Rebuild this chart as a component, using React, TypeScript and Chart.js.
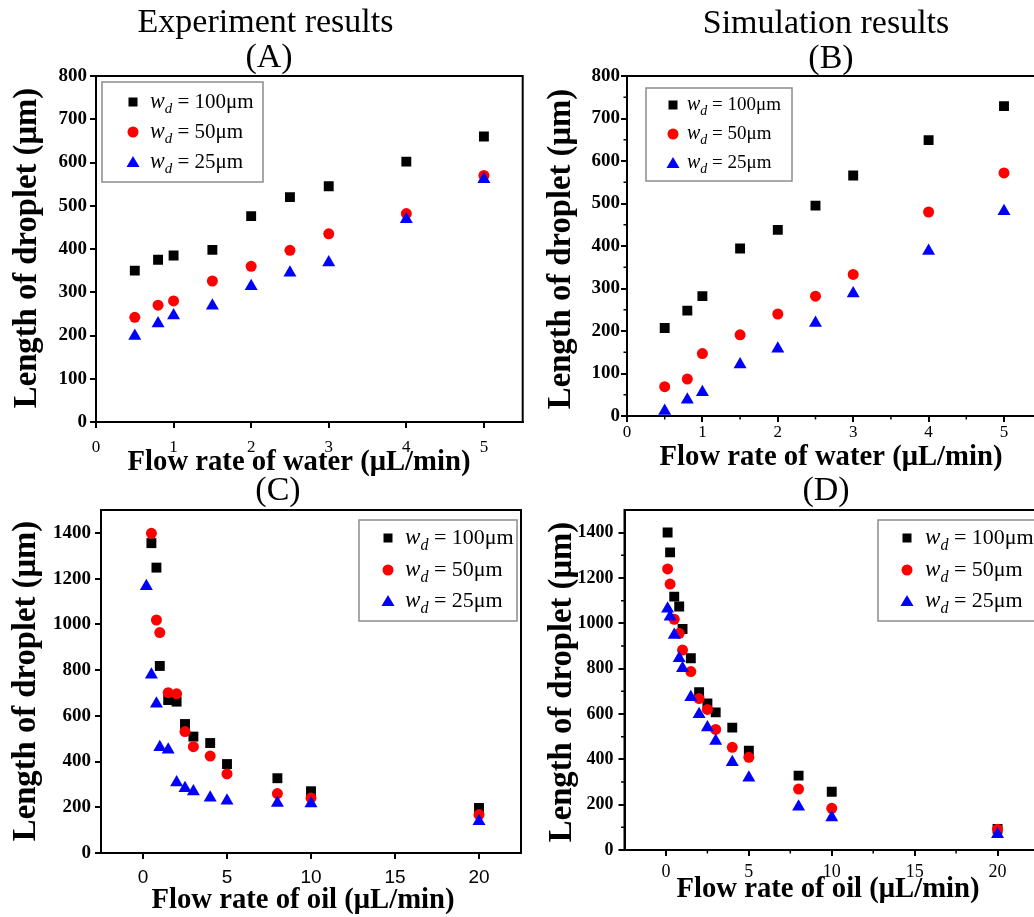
import React, { useEffect, useRef } from 'react';
import { Chart, registerables } from 'chart.js';

Chart.register(...registerables);

const SERIF = '"Liberation Serif", "Times New Roman", serif';
const SANS = '"Liberation Sans", Arial, sans-serif';

// ---------------- DATA ----------------
// Panel A: experiment, flow rate of water
const waterFlowA = [0.5, 0.8, 1, 1.5, 2, 2.5, 3, 4, 5];
const expWater100 = [350, 375, 385, 398, 476, 520, 545, 602, 660];
const expWater50 = [242, 270, 280, 326, 360, 397, 435, 482, 570];
const expWater25 = [199, 228, 246, 269, 314, 345, 369, 469, 561];

// Panel B: simulation, flow rate of water
const waterFlowB = [0.5, 0.8, 1, 1.5, 2, 2.5, 3, 4, 5];
const simWater100 = [207, 248, 282, 394, 438, 495, 566, 649, 729];
const simWater50 = [69, 87, 147, 191, 240, 282, 333, 480, 572];
const simWater25 = [12, 38, 56, 121, 158, 219, 288, 388, 482];

// Panel C: experiment, flow rate of oil
const oilFlowC = [0.5, 0.8, 1, 1.5, 2, 2.5, 3, 4, 5, 8, 10, 20];
const oilFlowC25 = [0.2, 0.5, 0.8, 1, 1.5, 2, 2.5, 3, 4, 5, 8, 10, 20];
const expOil100 = [1355, 1248, 818, 669, 662, 564, 509, 481, 389, 327, 270, 197];
const expOil50 = [1398, 1019, 964, 701, 696, 531, 465, 424, 346, 260, 241, 168];
const expOil25 = [1167, 780, 653, 463, 452, 308, 283, 269, 242, 229, 219, 216, 139];

// Panel D: simulation, flow rate of oil
const oilFlowD = [0.1, 0.25, 0.5, 0.8, 1, 1.5, 2, 2.5, 3, 4, 5, 8, 10, 20];
const simOil100 = [1401, 1313, 1118, 1074, 975, 846, 696, 647, 607, 540, 438, 328, 257, 93];
const simOil50 = [1240, 1173, 1018, 956, 882, 787, 668, 620, 532, 453, 409, 269, 184, 92];
const simOil25 = [1064, 1029, 949, 846, 802, 674, 599, 540, 481, 387, 319, 191, 143, 69];

// Ticks
const waterTicks = [0, 1, 2, 3, 4, 5];
const waterTickLabels = ['0', '1', '2', '3', '4', '5'];
const waterLenTicks = [0, 100, 200, 300, 400, 500, 600, 700, 800];
const waterLenTickLabels = ['0', '100', '200', '300', '400', '500', '600', '700', '800'];
const oilTicks = [0, 5, 10, 15, 20];
const oilTickLabels = ['0', '5', '10', '15', '20'];
const oilLenTicks = [0, 200, 400, 600, 800, 1000, 1200, 1400];
const oilLenTickLabels = ['0', '200', '400', '600', '800', '1000', '1200', '1400'];
const waterMinorTicks = [0.5, 1.5, 2.5, 3.5, 4.5];
const waterLenMinorTicks = [50, 150, 250, 350, 450, 550, 650, 750];
const oilMinorTicks = [2.5, 7.5, 12.5, 17.5];
const oilLenMinorTicks = [100, 300, 500, 700, 900, 1100, 1300];

// Legend
const legendWidths = ['100μm', '50μm', '25μm'];
const seriesColors = ['#000000', '#ff0000', '#0000ff'];
const seriesStyles = ['rect', 'circle', 'triangle'];

const CW = 1100;
const CH = 917;
const YW = 50;
const XH = 40;

type Area = { left: number; right: number; top: number; bottom: number };
type Panel = {
  area: Area;
  xMin: number; xMax: number; yMin: number; yMax: number;
  xTicks: number[]; xLabels: string[]; yTicks: number[]; yLabels: string[];
  xMinor: number[]; yMinor: number[];
  xFont: any; yFont: any; xPad: number; yPad: number;
  series: { xs: number[]; ys: number[] }[];
  titles: { text: string; x: number; y: number }[];
  xTitle: { text: string; x: number; y: number };
  yTitle: { text: string; x: number; y: number };
  legend: { left: number; top: number; right: number; bottom: number; mx: number; tx: number; rows: number[]; fs: number };
};

const yTickFont = { family: SERIF, size: 19, weight: 'bold' as const };

const panels: Panel[] = [
  {
    area: { left: 96, right: 522.7, top: 76, bottom: 422 },
    xMin: 0, xMax: 5.5, yMin: 0, yMax: 800,
    xTicks: waterTicks, xLabels: waterTickLabels, yTicks: waterLenTicks, yLabels: waterLenTickLabels,
    xMinor: [], yMinor: [],
    xFont: { family: SERIF, size: 17 }, yFont: yTickFont, xPad: 9, yPad: 3,
    series: [
      { xs: waterFlowA, ys: expWater100 },
      { xs: waterFlowA, ys: expWater50 },
      { xs: waterFlowA, ys: expWater25 },
    ],
    titles: [
      { text: 'Experiment results', x: 265.5, y: 32 },
      { text: '(A)', x: 269, y: 67 },
    ],
    xTitle: { text: 'Flow rate of water (μL/min)', x: 299, y: 470 },
    yTitle: { text: 'Length of droplet (μm)', x: 28, y: 248 },
    legend: { left: 102, top: 82, right: 263, bottom: 182, mx: 133, tx: 150, rows: [102, 132, 162], fs: 21 },
  },
  {
    area: { left: 627, right: 1041.7, top: 76, bottom: 416 },
    xMin: 0, xMax: 5.5, yMin: 0, yMax: 800,
    xTicks: waterTicks, xLabels: waterTickLabels, yTicks: waterLenTicks, yLabels: waterLenTickLabels,
    xMinor: waterMinorTicks, yMinor: waterLenMinorTicks,
    xFont: { family: SERIF, size: 17 }, yFont: yTickFont, xPad: 0, yPad: 1,
    series: [
      { xs: waterFlowB, ys: simWater100 },
      { xs: waterFlowB, ys: simWater50 },
      { xs: waterFlowB, ys: simWater25 },
    ],
    titles: [
      { text: 'Simulation results', x: 826, y: 33 },
      { text: '(B)', x: 831, y: 68 },
    ],
    xTitle: { text: 'Flow rate of water (μL/min)', x: 831, y: 465 },
    yTitle: { text: 'Length of droplet (μm)', x: 562, y: 249 },
    legend: { left: 646, top: 88, right: 792, bottom: 181, mx: 673, tx: 687, rows: [105, 134, 163], fs: 19 },
  },
  {
    area: { left: 101, right: 521, top: 510, bottom: 853 },
    xMin: -2.5, xMax: 22.5, yMin: 0, yMax: 1500,
    xTicks: oilTicks, xLabels: oilTickLabels, yTicks: oilLenTicks, yLabels: oilLenTickLabels,
    xMinor: [], yMinor: [],
    xFont: { family: SANS, size: 19 }, yFont: yTickFont, xPad: 7, yPad: 4,
    series: [
      { xs: oilFlowC, ys: expOil100 },
      { xs: oilFlowC, ys: expOil50 },
      { xs: oilFlowC25, ys: expOil25 },
    ],
    titles: [{ text: '(C)', x: 278, y: 500 }],
    xTitle: { text: 'Flow rate of oil (μL/min)', x: 303, y: 908 },
    yTitle: { text: 'Length of droplet (μm)', x: 27, y: 681 },
    legend: { left: 359, top: 520, right: 517, bottom: 621, mx: 388, tx: 405, rows: [538, 570, 601], fs: 22 },
  },
  {
    area: { left: 624.5, right: 1039, top: 510, bottom: 850 },
    xMin: -2.5, xMax: 22.5, yMin: 0, yMax: 1500,
    xTicks: oilTicks, xLabels: oilTickLabels, yTicks: oilLenTicks, yLabels: oilLenTickLabels,
    xMinor: oilMinorTicks, yMinor: oilLenMinorTicks,
    xFont: { family: SERIF, size: 18 }, yFont: { family: SERIF, size: 18, weight: 'bold' as const }, xPad: 5, yPad: 5,
    series: [
      { xs: oilFlowD, ys: simOil100 },
      { xs: oilFlowD, ys: simOil50 },
      { xs: oilFlowD, ys: simOil25 },
    ],
    titles: [{ text: '(D)', x: 826, y: 500 }],
    xTitle: { text: 'Flow rate of oil (μL/min)', x: 828, y: 897 },
    yTitle: { text: 'Length of droplet (μm)', x: 563, y: 682 },
    legend: { left: 878, top: 520, right: 1040, bottom: 621, mx: 907, tx: 925, rows: [538, 570, 601], fs: 22 },
  },
];

function drawMarker(ctx: CanvasRenderingContext2D, style: string, x: number, y: number, color: string) {
  ctx.fillStyle = color;
  ctx.beginPath();
  if (style === 'rect') {
    ctx.rect(x - 4.5, y - 4.5, 9, 9);
  } else if (style === 'circle') {
    ctx.arc(x, y, 5.5, 0, Math.PI * 2);
  } else {
    ctx.moveTo(x, y - 6);
    ctx.lineTo(x + 6.5, y + 5);
    ctx.lineTo(x - 6.5, y + 5);
    ctx.closePath();
  }
  ctx.fill();
}

function overlayPlugin(p: Panel) {
  return {
    id: 'overlay',
    afterDraw(chart: any) {
      const ctx: CanvasRenderingContext2D = chart.ctx;
      const a = chart.chartArea;
      const xs = chart.scales.x;
      const ys = chart.scales.y;
      ctx.save();
      // frame
      ctx.strokeStyle = '#000';
      ctx.lineWidth = 2;
      ctx.strokeRect(a.left, a.top, a.right - a.left, a.bottom - a.top);
      // minor ticks
      ctx.lineWidth = 1.5;
      ctx.beginPath();
      for (const v of p.xMinor) {
        const px = xs.getPixelForValue(v);
        ctx.moveTo(px, a.bottom);
        ctx.lineTo(px, a.bottom + 3.5);
      }
      for (const v of p.yMinor) {
        const py = ys.getPixelForValue(v);
        ctx.moveTo(a.left - 3.5, py);
        ctx.lineTo(a.left, py);
      }
      ctx.stroke();
      // titles
      ctx.fillStyle = '#000';
      ctx.textAlign = 'center';
      ctx.textBaseline = 'alphabetic';
      ctx.font = `34px ${SERIF}`;
      for (const t of p.titles) ctx.fillText(t.text, t.x, t.y);
      // axis titles
      ctx.font = `bold 28.7px ${SERIF}`;
      ctx.fillText(p.xTitle.text, p.xTitle.x, p.xTitle.y);
      ctx.save();
      ctx.translate(p.yTitle.x, p.yTitle.y);
      ctx.rotate(-Math.PI / 2);
      ctx.textBaseline = 'middle';
      ctx.font = `bold 32.7px ${SERIF}`;
      ctx.fillText(p.yTitle.text, 0, 0);
      ctx.restore();
      // legend
      const L = p.legend;
      ctx.fillStyle = '#fff';
      ctx.fillRect(L.left, L.top, L.right - L.left, L.bottom - L.top);
      ctx.strokeStyle = '#8c8c8c';
      ctx.lineWidth = 1.5;
      ctx.strokeRect(L.left, L.top, L.right - L.left, L.bottom - L.top);
      const fs = L.fs;
      ctx.textAlign = 'left';
      ctx.textBaseline = 'alphabetic';
      legendWidths.forEach((lab, i) => {
        const y = L.rows[i];
        drawMarker(ctx, seriesStyles[i], L.mx, y, seriesColors[i]);
        ctx.fillStyle = '#000';
        let x = L.tx;
        const base = y + fs * 0.28;
        ctx.font = `italic ${fs * 1.05}px ${SERIF}`;
        ctx.fillText('w', x, base);
        x += ctx.measureText('w').width;
        ctx.font = `italic ${Math.round(fs * 0.72)}px ${SERIF}`;
        ctx.fillText('d', x, base + fs * 0.25);
        x += ctx.measureText('d').width;
        ctx.font = `${fs}px ${SERIF}`;
        ctx.fillText(' = ' + lab, x, base);
      });
      ctx.restore();
    },
  };
}

function buildConfig(p: Panel): any {
  const a = p.area;
  const radii = [7, 5.5, 7.5];
  const orders = [3, 2, 1];
  return {
    type: 'scatter',
    data: {
      datasets: p.series.map((s, i) => ({
        label: 'w_d = ' + legendWidths[i],
        data: s.xs.map((x, j) => ({ x, y: s.ys[j] })),
        pointStyle: seriesStyles[i],
        pointRadius: radii[i],
        pointHoverRadius: radii[i],
        backgroundColor: seriesColors[i],
        borderColor: seriesColors[i],
        borderWidth: 0,
        showLine: false,
        order: orders[i],
      })),
    },
    options: {
      responsive: false,
      animation: false,
      events: [],
      layout: {
        padding: {
          left: a.left - YW,
          right: CW - a.right,
          top: a.top,
          bottom: CH - a.bottom - XH,
        },
      },
      plugins: {
        legend: { display: false },
        tooltip: { enabled: false },
        title: { display: false },
      },
      scales: {
        x: {
          type: 'linear',
          min: p.xMin,
          max: p.xMax,
          afterBuildTicks: (s: any) => {
            s.ticks = p.xTicks.map((v) => ({ value: v }));
          },
          afterFit: (s: any) => {
            s.height = XH;
          },
          ticks: {
            callback: (_v: any, i: number) => p.xLabels[i],
            font: p.xFont,
            color: '#000',
            padding: p.xPad,
            maxRotation: 0,
            autoSkip: false,
          },
          grid: {
            drawOnChartArea: false,
            drawTicks: true,
            tickLength: 6,
            tickWidth: 2,
            tickColor: '#000',
            color: '#000',
            lineWidth: 2,
          },
          border: { display: true, color: '#000', width: 2 },
        },
        y: {
          type: 'linear',
          min: p.yMin,
          max: p.yMax,
          afterBuildTicks: (s: any) => {
            s.ticks = p.yTicks.map((v) => ({ value: v }));
          },
          afterFit: (s: any) => {
            s.width = YW;
          },
          ticks: {
            callback: (_v: any, i: number) => p.yLabels[i],
            font: p.yFont,
            color: '#000',
            padding: p.yPad,
            autoSkip: false,
          },
          grid: {
            drawOnChartArea: false,
            drawTicks: true,
            tickLength: 6,
            tickWidth: 2,
            tickColor: '#000',
            color: '#000',
            lineWidth: 2,
          },
          border: { display: true, color: '#000', width: 2 },
        },
      },
    },
    plugins: [overlayPlugin(p)],
  };
}

function PanelChart({ panel }: { panel: Panel }) {
  const ref = useRef<HTMLCanvasElement>(null);
  useEffect(() => {
    if (!ref.current) return;
    const chart = new Chart(ref.current, buildConfig(panel));
    return () => chart.destroy();
  }, [panel]);
  return (
    <canvas
      ref={ref}
      width={CW}
      height={CH}
      style={{ position: 'absolute', left: 0, top: 0, width: CW, height: CH }}
    />
  );
}

export default function App() {
  return (
    <div
      style={{
        position: 'absolute',
        left: 0,
        top: 0,
        width: 1034,
        height: 917,
        overflow: 'hidden',
        background: '#fff',
      }}
    >
      {panels.map((p, i) => (
        <PanelChart key={i} panel={p} />
      ))}
    </div>
  );
}
